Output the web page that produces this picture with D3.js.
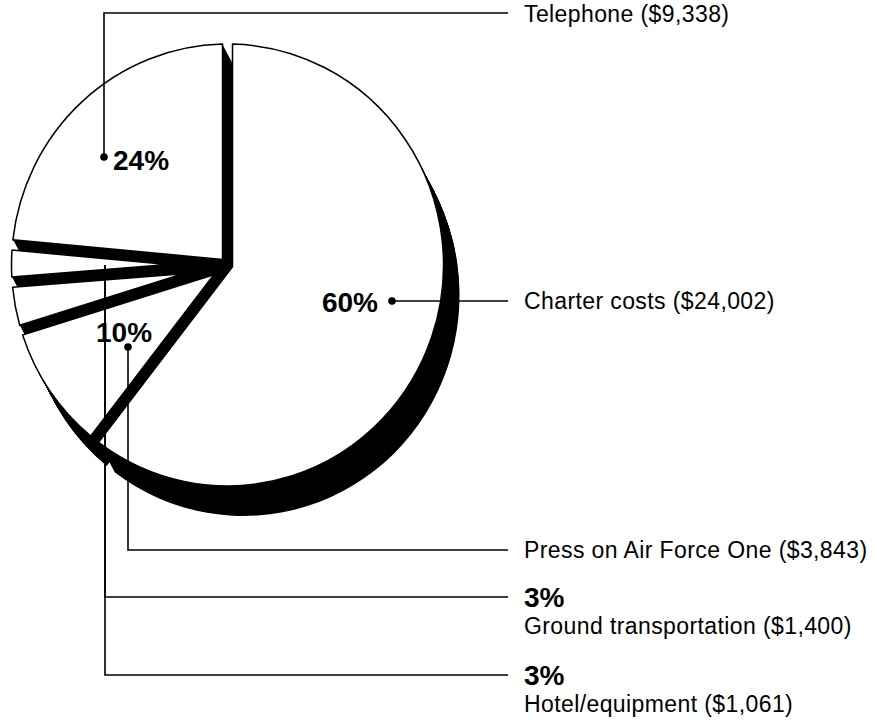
<!DOCTYPE html>
<html>
<head>
<meta charset="utf-8">
<script src="https://cdn.jsdelivr.net/npm/d3@7"></script>
<style>
body { margin: 0; background: #fff; }
text { font-family: "Liberation Sans", Arial, Helvetica, sans-serif; fill: #000; }
.amt { font-size: 23px; letter-spacing: 0.4px; }
.pct { font-size: 28px; font-weight: bold; }
</style>
</head>
<body>
<script>
// chart values (slice order is clockwise from 12 o'clock)
const categories = ['Charter costs', 'Press on Air Force One', 'Ground transportation', 'Hotel/equipment', 'Telephone'];
const amounts = [24002, 3843, 1400, 1061, 9338];
const amountLabels = ['$24,002', '$3,843', '$1,400', '$1,061', '$9,338'];
const percentLabels = ['60%', '10%', '3%', '3%', '24%'];

// where each callout sits (leader path, dot, percent and name)
const callouts = [
	{pct: [378, 312, 'end'], dot: [392, 301], leader: [[392, 301], [508, 301]], name: [524, 309]},
	{pct: [96, 342, 'start'], dot: [128, 347], leader: [[128, 347], [128, 550], [508, 550]], name: [524, 558]},
	{pct: [524, 607, 'start'], dot: null, leader: [[105, 265], [105, 597], [508, 597]], name: [524, 634]},
	{pct: [524, 685, 'start'], dot: null, leader: [[105, 265], [105, 675], [508, 675]], name: [524, 712]},
	{pct: [113, 170, 'start'], dot: [104, 157], leader: [[104, 157], [104, 13], [508, 13]], name: [524, 22]}
];

const width = 876, height = 720;
const cx = 227.5, cy = 265, radius = 216, squash = 1.023;
const gap = 10;          // width of the black band between slices
const depth = [16, 30];  // how far the slab extrudes (right, down)

const svg = d3.select('body')
	.append('svg')
	.attr('width', width)
	.attr('height', height);

const arcs = d3.pie().sort(null).value(d => d)(amounts);

// slice top face, with both straight edges pulled in by gap/2
function facePath(a) {
	const h = (a.endAngle - a.startAngle) / 2,
		m = a.startAngle + h,
		d = (gap / 2) / Math.sin(h),
		px = d * Math.sin(m),
		py = -d * Math.cos(m);

	function rim(t) {
		const ux = Math.sin(t), uy = -Math.cos(t);
		const b = px * ux + py * uy;
		const s = -b + Math.sqrt(b * b - (px * px + py * py) + radius * radius);
		return [px + s * ux, py + s * uy];
	}

	const q0 = rim(a.startAngle), q1 = rim(a.endAngle);
	const f0 = Math.atan2(q0[1], q0[0]);
	let f1 = Math.atan2(q1[1], q1[0]);
	while (f1 < f0) f1 += 2 * Math.PI;

	const p = d3.path();
	p.moveTo(px, py);
	p.lineTo(q0[0], q0[1]);
	p.arc(0, 0, radius, f0, f1, false);
	p.closePath();
	return p.toString();
}

// the black slab under the slices: stacked copies stepping down-right
const steps = d3.range(0, 1.0001, 1 / 34);
const slab = svg.append('g');
steps.forEach((t) => {
	slab.append('g')
	.attr('transform', `translate(${cx + depth[0] * t},${cy + depth[1] * t}) scale(1,${squash})`)
	.selectAll('path')
	.data(arcs)
	.enter()
	.append('path')
	.attr('d', facePath)
	.attr('fill', '#000');
});

// white top faces
svg.append('g')
	.attr('transform', `translate(${cx},${cy}) scale(1,${squash})`)
	.selectAll('path')
	.data(arcs)
	.enter()
	.append('path')
	.attr('d', facePath)
	.attr('fill', '#fff')
	.attr('stroke', '#000')
	.attr('stroke-width', 1.5)
	.attr('stroke-linejoin', 'round');

// callouts
const line = d3.line();
const calls = svg.append('g');

calls.selectAll('path')
	.data(callouts)
	.enter()
	.append('path')
	.attr('d', (d) => line(d.leader))
	.attr('fill', 'none')
	.attr('stroke', '#000')
	.attr('stroke-width', 1.6);

calls.selectAll('circle')
	.data(callouts.filter((d) => d.dot))
	.enter()
	.append('circle')
	.attr('cx', (d) => d.dot[0])
	.attr('cy', (d) => d.dot[1])
	.attr('r', 3.8)
	.attr('fill', '#000');

calls.selectAll('text.pct')
	.data(callouts)
	.enter()
	.append('text')
	.attr('class', 'pct')
	.attr('x', (d) => d.pct[0])
	.attr('y', (d) => d.pct[1])
	.attr('text-anchor', (d) => d.pct[2])
	.text((d, i) => percentLabels[i]);

calls.selectAll('text.amt')
	.data(callouts)
	.enter()
	.append('text')
	.attr('class', 'amt')
	.attr('x', (d) => d.name[0])
	.attr('y', (d) => d.name[1])
	.text((d, i) => categories[i] + ' (' + amountLabels[i] + ')');
</script>
</body>
</html>
